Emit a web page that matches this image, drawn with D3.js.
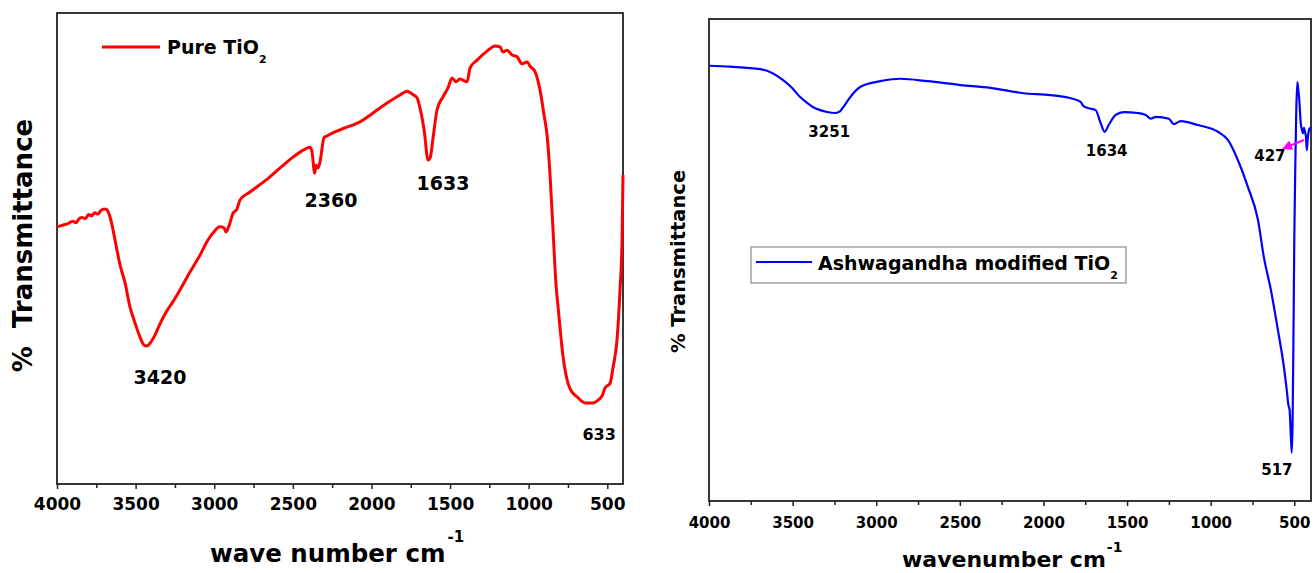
<!DOCTYPE html>
<html><head><meta charset="utf-8">
<script src="https://cdn.jsdelivr.net/npm/d3@7"></script>
<style>
body{margin:0;background:#fff}
text{font-family:"DejaVu Sans",Arial,sans-serif;font-weight:bold;fill:#000}
</style>
</head><body>
<svg id="c" width="1314" height="573"></svg>
<script>
// ---------- data ----------
const pureTiO2 = [[4000,54.6],[3960,55.0],[3930,55.3],[3900,55.8],[3880,55.5],[3860,56.3],[3840,56.6],[3820,56.3],[3800,57.2],[3780,56.9],[3760,57.6],[3740,57.3],[3720,58.1],[3700,58.4],[3685,58.3],[3670,57.4],[3650,55.0],[3631,51.8],[3599,46.5],[3567,42.7],[3536,37.6],[3504,34.2],[3472,31.2],[3447,29.5],[3428,29.3],[3408,29.9],[3377,31.6],[3345,34.0],[3313,36.1],[3268,38.4],[3218,41.2],[3154,45.0],[3090,48.6],[3040,51.8],[3008,53.3],[2963,54.6],[2938,54.4],[2925,53.5],[2906,54.8],[2880,57.5],[2855,58.4],[2836,60.3],[2772,62.0],[2671,64.5],[2581,67.1],[2499,69.4],[2422,71.1],[2391,71.5],[2378,70.5],[2361,66.0],[2352,67.7],[2340,67.1],[2327,68.4],[2302,73.5],[2283,73.9],[2200,75.2],[2073,76.9],[1901,80.9],[1818,82.6],[1774,83.4],[1742,82.8],[1710,82.0],[1691,79.8],[1665,75.2],[1640,68.8],[1627,69.2],[1608,73.5],[1583,79.4],[1545,82.2],[1513,84.1],[1487,86.2],[1462,85.4],[1437,86.0],[1392,85.4],[1373,88.3],[1328,90.0],[1265,91.9],[1214,93.0],[1182,92.8],[1163,91.7],[1138,92.1],[1106,91.1],[1074,90.7],[1042,89.2],[1010,89.6],[991,88.7],[959,87.5],[928,83.7],[902,78.3],[883,74.1],[864,65.6],[845,53.9],[826,42.3],[813,37.6],[781,27.0],[750,21.4],[724,19.5],[692,18.5],[641,17.2],[591,17.2],[559,17.8],[533,18.7],[514,20.4],[482,21.4],[463,24.8],[438,30.6],[419,41.2],[406,51.8],[400,65.6]];

const ashwagandhaTiO2 = [[4000,90.3],[3874,90.1],[3694,89.6],[3623,88.8],[3557,87.3],[3503,85.7],[3455,83.8],[3413,82.6],[3377,81.7],[3335,81.1],[3293,80.7],[3245,80.5],[3215,80.9],[3197,81.7],[3167,83.2],[3137,84.6],[3096,85.9],[3054,86.5],[2976,87.1],[2856,87.6],[2694,87.1],[2497,86.3],[2317,85.7],[2119,84.6],[1957,84.2],[1820,83.4],[1778,82.8],[1760,81.9],[1730,81.5],[1688,81.1],[1658,78.4],[1634,76.6],[1610,78.0],[1568,80.1],[1520,80.7],[1436,80.5],[1388,80.1],[1358,79.3],[1328,79.7],[1250,79.3],[1221,78.2],[1179,78.8],[1077,78.0],[957,76.6],[897,74.9],[837,70.7],[777,65.1],[717,58.3],[682,50.6],[640,43.8],[598,35.5],[562,27.8],[545,23.0],[535,19.9],[528,18.9],[522,14.7],[515,10.0],[510,16.8],[505,33.4],[500,54.1],[494,69.3],[488,81.1],[482,86.9],[476,85.3],[470,83.2],[462,78.6],[454,77.0],[448,76.3],[442,77.4],[436,76.6],[430,75.5],[425,72.8],[420,74.9],[412,77.0],[404,77.4],[400,77.6]];

const xTicks = [4000,3500,3000,2500,2000,1500,1000,500];
const xMinorTicks = [3750,3250,2750,2250,1750,1250,750];

const pureLabels = ["3420","2360","1633","633"];
const pureLabelAnchors = [[3345,22.7],[2257,60.3],[1545,63.9],[552,10.6]];
const ashLabels = ["3251","1634","427","517"];
const ashLabelAnchors = [[3281,76.6],[1622,72.6],[646,71.6],[604,6.4]];
const ashArrow = [[442,74.9],[562,73.2]];

// ---------- drawing ----------
const svg = d3.select("#c");
const defs = svg.append("defs");
defs.append("marker").attr("id","arr").attr("viewBox","0 0 10 10")
  .attr("refX",8).attr("refY",5).attr("markerWidth",5).attr("markerHeight",5)
  .attr("orient","auto").append("path").attr("d","M0,0L10,5L0,10z").attr("fill","#ff00ff");

function panel(o){
  const x = d3.scaleLinear().domain([4000,400]).range([o.l,o.r]);
  const y = d3.scaleLinear().domain([0,100]).range([o.b,o.t]);
  const g = svg.append("g");
  g.append("g").attr("transform",`translate(0,${o.b})`)
    .call(d3.axisBottom(x).tickValues(xMinorTicks).tickSize(4).tickSizeOuter(0).tickFormat(""))
    .call(a=>a.select(".domain").remove())
    .selectAll("line").attr("stroke","#222").attr("stroke-width",1.5);
  const ax = g.append("g").attr("transform",`translate(0,${o.b})`)
    .call(d3.axisBottom(x).tickValues(xTicks).tickSize(5).tickSizeOuter(0).tickPadding(o.pad).tickFormat(d3.format("d")));
  ax.select(".domain").remove();
  ax.selectAll("line").attr("stroke","#222").attr("stroke-width",1.5);
  ax.selectAll("text").attr("font-family",'"DejaVu Sans",Arial,sans-serif')
    .attr("font-weight","bold").attr("font-size",o.tfs).attr("fill","#000");
  g.append("rect").attr("x",o.l).attr("y",o.t).attr("width",o.r-o.l).attr("height",o.b-o.t)
    .attr("fill","none").attr("stroke","#222").attr("stroke-width",1.8);
  const line = d3.line().x(d=>x(d[0])).y(d=>y(d[1])).curve(d3.curveMonotoneX);
  g.append("path").datum(o.data).attr("d",line).attr("fill","none")
    .attr("stroke",o.color).attr("stroke-width",o.lw).attr("stroke-linejoin","round");
  g.selectAll("text.pk").data(o.labels).enter().append("text").attr("class","pk")
    .attr("x",(d,i)=>x(o.anchors[i][0])).attr("y",(d,i)=>y(o.anchors[i][1]))
    .attr("text-anchor","middle").attr("dominant-baseline","central")
    .attr("font-size",(d,i)=>o.lfs[i]).text(d=>d);
  return {x,y,g};
}

const L = panel({l:57,r:623,t:13,b:484,pad:9,tfs:17,data:pureTiO2,color:"#ff0000",lw:3,
  labels:pureLabels,anchors:pureLabelAnchors,lfs:[19,19,19,16]});
const R = panel({l:709,r:1311,t:19,b:501,pad:11,tfs:15,data:ashwagandhaTiO2,color:"#0000ff",lw:2.2,
  labels:ashLabels,anchors:ashLabelAnchors,lfs:[15,15,15,15]});

R.g.append("line").attr("x1",R.x(ashArrow[0][0])).attr("y1",R.y(ashArrow[0][1]))
  .attr("x2",R.x(ashArrow[1][0])).attr("y2",R.y(ashArrow[1][1]))
  .attr("stroke","#ff00ff").attr("stroke-width",2).attr("marker-end","url(#arr)");

// left legend
svg.append("line").attr("x1",102).attr("x2",160).attr("y1",47).attr("y2",47).attr("stroke","#ff0000").attr("stroke-width",3);
const lt = svg.append("text").attr("x",167).attr("y",54).attr("font-size",19);
lt.append("tspan").text("Pure TiO");
lt.append("tspan").attr("font-size",11).attr("dy",9).text("2");

// right legend
svg.append("rect").attr("x",751).attr("y",247).attr("width",375).attr("height",36).attr("fill","#fff").attr("stroke","#888").attr("stroke-width",1.2);
svg.append("line").attr("x1",756).attr("x2",812).attr("y1",262).attr("y2",262).attr("stroke","#0000ff").attr("stroke-width",2);
const rt = svg.append("text").attr("x",818).attr("y",269.5).attr("font-size",19);
rt.append("tspan").text("Ashwagandha modified TiO");
rt.append("tspan").attr("font-size",11).attr("dy",9).text("2");

// axis titles
svg.append("text").attr("transform","translate(32,245.5) rotate(-90)").attr("text-anchor","middle")
  .attr("font-size",26).style("white-space","pre").text("%  Transmittance");
svg.append("text").attr("transform","translate(685,261.5) rotate(-90)").attr("text-anchor","middle")
  .attr("font-size",19.5).text("% Transmittance");

const xt1 = svg.append("text").attr("x",210).attr("y",562).attr("font-size",24.5);
xt1.append("tspan").text("wave number cm");
xt1.append("tspan").attr("font-size",15).attr("dy",-20).attr("dx",2).text("-1");

const xt2 = svg.append("text").attr("x",902).attr("y",567).attr("font-size",22);
xt2.append("tspan").text("wavenumber cm");
xt2.append("tspan").attr("font-size",14).attr("dy",-15).attr("dx",1).text("-1");
</script>
</body></html>
